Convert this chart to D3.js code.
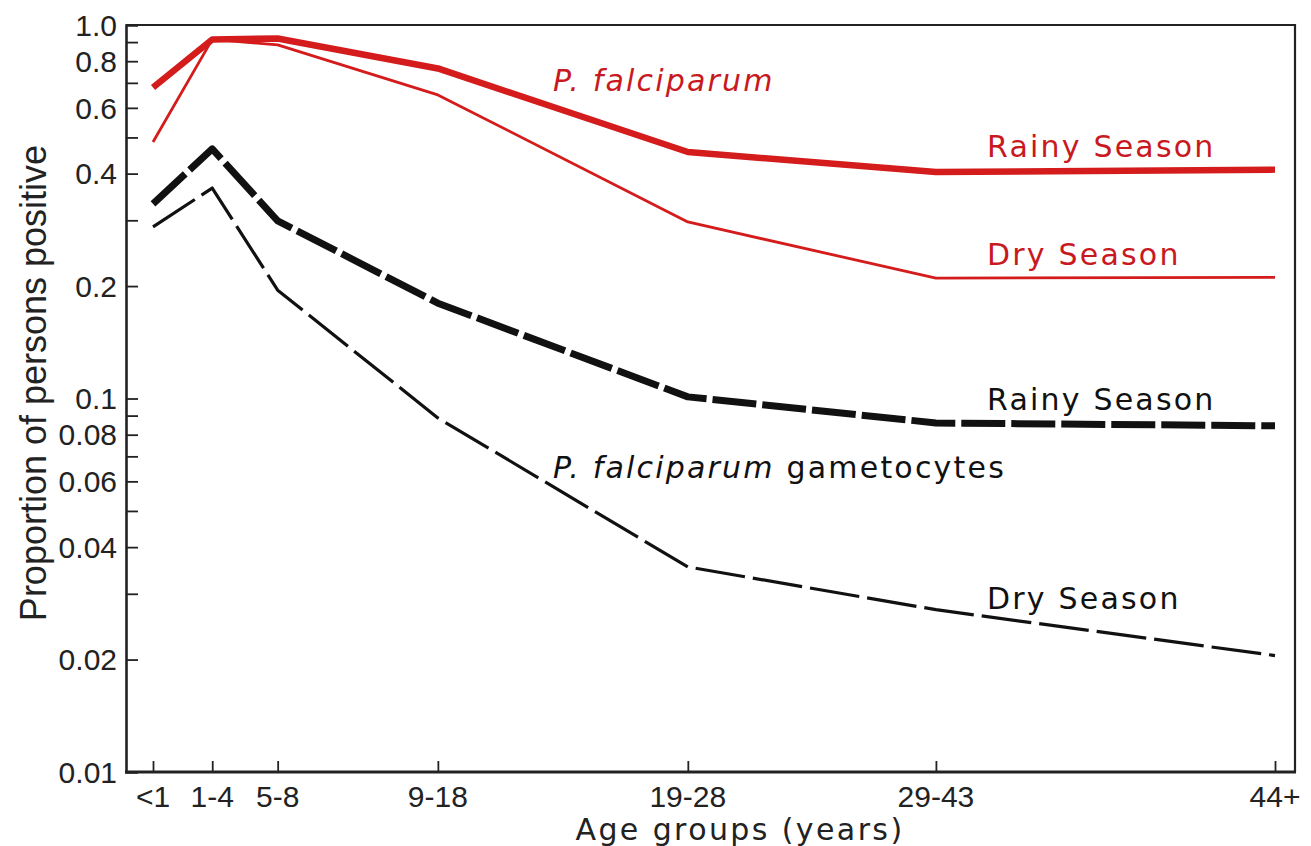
<!DOCTYPE html>
<html>
<head>
<meta charset="utf-8">
<script src="https://cdn.jsdelivr.net/npm/d3@7/dist/d3.min.js"></script>
<style>
  html, body { margin: 0; padding: 0; background: #ffffff; }
  svg { display: block; }
</style>
</head>
<body>
<svg id="chart" width="1311" height="846"></svg>
<script>
// ---- data ----
const ageGroups = ["<1", "1-4", "5-8", "9-18", "19-28", "29-43", "44+"];
// plotting position of each age group along the original (non-uniform) x axis
const ageAxisUnits = [0, 0.95, 2, 4.57, 8.58, 12.56, 18];

const pfRainy  = [0.68, 0.915, 0.92, 0.765, 0.457, 0.404, 0.41];
const pfDry    = [0.486, 0.915, 0.885, 0.65, 0.297, 0.21, 0.211];
const gamRainy = [0.332, 0.466, 0.299, 0.18, 0.101, 0.086, 0.0845];
const gamDry   = [0.288, 0.366, 0.195, 0.0887, 0.0354, 0.0272, 0.0205];

const yMajorTicks = [1.0, 0.8, 0.6, 0.4, 0.2, 0.1, 0.08, 0.06, 0.04, 0.02, 0.01];
const yTickLabels = ["1.0", "0.8", "0.6", "0.4", "0.2", "0.1", "0.08", "0.06", "0.04", "0.02", "0.01"];
const yMinorTicks = [0.9, 0.7, 0.5, 0.3, 0.09, 0.07, 0.05, 0.03];

// ---- layout ----
const svg = d3.select("#chart");
const frame = { left: 126, right: 1295, top: 25, bottom: 772 };

const x = d3.scaleLinear()
  .domain([d3.min(ageAxisUnits), d3.max(ageAxisUnits)])
  .range([153, 1275]);
const y = d3.scaleLog()
  .domain([0.01, 1])
  .range([frame.bottom, frame.top]);

const red = "#d41c1c";
const redText = "#c8191f";

// frame (top & right borders)
svg.append("path")
  .attr("d", `M${frame.left},${frame.top}H${frame.right}V${frame.bottom}`)
  .attr("fill", "none").attr("stroke", "#222").attr("stroke-width", 2.2);

// ---- y axis ----
const yAxis = d3.axisRight(y)
  .tickValues(yMajorTicks.concat(yMinorTicks))
  .tickSize(12)
  .tickFormat(() => "");
const gy = svg.append("g").attr("transform", `translate(${frame.left},0)`).call(yAxis);
gy.select(".domain").attr("stroke", "#222").attr("stroke-width", 2.6);
gy.selectAll(".tick line").attr("stroke", "#222").attr("stroke-width", 1.8)
  .filter(d => d === 1.0 || d === 0.01).remove();

svg.append("g").selectAll("text")
  .data(yMajorTicks)
  .join("text")
  .attr("x", frame.left - 9)
  .attr("y", d => y(d))
  .attr("dy", "0.36em")
  .attr("text-anchor", "end")
  .attr("font-family", "Liberation Sans, Arial, sans-serif")
  .attr("font-size", 30)
  .attr("fill", "#222")
  .text((d, i) => yTickLabels[i]);

// ---- x axis ----
const xAxis = d3.axisTop(x)
  .tickValues(ageAxisUnits)
  .tickSize(11)
  .tickFormat(() => "");
const gx = svg.append("g").attr("transform", `translate(0,${frame.bottom})`).call(xAxis);
gx.select(".domain").remove();
gx.selectAll(".tick line").attr("stroke", "#222").attr("stroke-width", 1.8);
svg.append("line")
  .attr("x1", frame.left - 1).attr("x2", frame.right + 1)
  .attr("y1", frame.bottom).attr("y2", frame.bottom)
  .attr("stroke", "#222").attr("stroke-width", 3);

svg.append("g").selectAll("text")
  .data(ageGroups)
  .join("text")
  .attr("x", (d, i) => x(ageAxisUnits[i]))
  .attr("y", 807)
  .attr("text-anchor", "middle")
  .attr("font-family", "Liberation Sans, Arial, sans-serif")
  .attr("font-size", 30)
  .attr("fill", "#222")
  .text(d => d);

// axis titles
svg.append("text")
  .attr("transform", "translate(46,383) rotate(-90)")
  .attr("text-anchor", "middle")
  .attr("font-family", "Liberation Sans, Arial, sans-serif")
  .attr("font-size", 36)
  .attr("fill", "#222")
  .text("Proportion of persons positive");

svg.append("text")
  .attr("x", 740)
  .attr("y", 840)
  .attr("text-anchor", "middle")
  .attr("font-family", "DejaVu Sans, Verdana, sans-serif")
  .attr("font-size", 30)
  .attr("letter-spacing", 2.4)
  .attr("fill", "#222")
  .text("Age groups (years)");

// ---- lines ----
const line = d3.line()
  .x((d, i) => x(ageAxisUnits[i]))
  .y(d => y(d));

const series = [
  { values: pfDry,    color: red,    width: 2.8, dash: null },
  { values: pfRainy,  color: red,    width: 6.5, dash: null },
  { values: gamDry,   color: "#111", width: 3.2, dash: "50,8" },
  { values: gamRainy, color: "#111", width: 7,   dash: "44,6" }
];

svg.append("g").selectAll("path")
  .data(series)
  .join("path")
  .attr("d", d => line(d.values))
  .attr("fill", "none")
  .attr("stroke", d => d.color)
  .attr("stroke-width", d => d.width)
  .attr("stroke-dasharray", d => d.dash)
  .attr("stroke-linejoin", "round")
  .attr("stroke-linecap", "butt");

// ---- annotations ----
const annFont = "DejaVu Sans, Verdana, sans-serif";
function ann(xp, yp, color, parts) {
  const t = svg.append("text")
    .attr("x", xp).attr("y", yp)
    .attr("font-family", annFont)
    .attr("font-size", 30)
    .attr("letter-spacing", 2.2)
    .attr("fill", color);
  parts.forEach(p => {
    t.append("tspan")
      .attr("font-style", p.italic ? "italic" : "normal")
      .text(p.text);
  });
}
ann(553, 91, redText, [{ text: "P. falciparum", italic: true }]);
ann(987, 157, redText, [{ text: "Rainy Season" }]);
ann(987, 265, redText, [{ text: "Dry Season" }]);
ann(987, 410, "#111", [{ text: "Rainy Season" }]);
ann(553, 478, "#111", [{ text: "P. falciparum", italic: true }, { text: " gametocytes" }]);
ann(987, 609, "#111", [{ text: "Dry Season" }]);
</script>
</body>
</html>
